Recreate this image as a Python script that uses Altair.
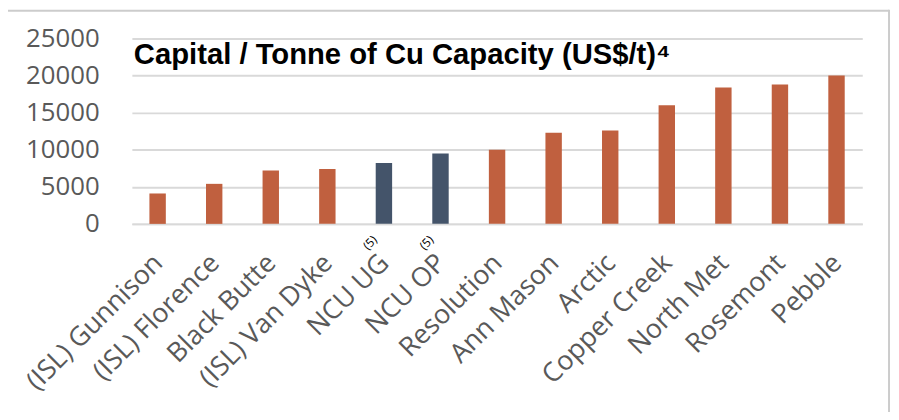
import altair as alt
import pandas as pd

categories = ["(ISL) Gunnison", "(ISL) Florence", "Black Butte", "(ISL) Van Dyke",
              "NCU UG", "NCU OP", "Resolution", "Ann Mason", "Arctic",
              "Copper Creek", "North Met", "Rosemont", "Pebble"]
values = [4100, 5400, 7200, 7400, 8200, 9500, 10000, 12300, 12600, 16000, 18400, 18800, 20000]
groups = ["Peer", "Peer", "Peer", "Peer", "NCU", "NCU", "Peer", "Peer", "Peer",
          "Peer", "Peer", "Peer", "Peer"]
notes = ["", "", "", "", "(5)", "(5)", "", "", "", "", "", "", ""]
y_ticks = [0, 5000, 10000, 15000, 20000, 25000]
title_text = "Capital / Tonne of Cu Capacity (US$/t)\u2074"

df = pd.DataFrame({"cat": categories, "val": values,
                   "grp": groups, "note": notes})

W, H = 737, 187

x = alt.X("cat:N", sort=categories, title=None,
          scale=alt.Scale(paddingInner=0.71, paddingOuter=0.31),
          axis=alt.Axis(labelAngle=-45, labelFont="Open Sans", labelFontSize=27,
                        labelColor="#595959", labelPadding=35, labelOffset=1,
                        ticks=False, labelAlign="right", labelBaseline="middle",
                        domainColor="#D9D9D9", domainWidth=2, labelLimit=400,
                        labelOverlap=False))
y_axis = alt.Axis(values=y_ticks, format="d", labelFont="Open Sans",
                  labelFontSize=26, labelColor="#595959", labelPadding=33,
                  labelOverlap=False, labelFlush=False,
                  ticks=False, domain=False, gridColor="#D9D9D9",
                  gridWidth=2)
y_scale = alt.Scale(domain=[0, 25000], nice=False)
y = alt.Y("val:Q", title=None, scale=y_scale, axis=y_axis)

bars = alt.Chart(df).mark_bar().encode(
    x=x, y=y,
    color=alt.Color("grp:N", legend=None,
                    scale=alt.Scale(domain=["Peer", "NCU"],
                                    range=["#C0603F", "#44546A"])))

sup = alt.Chart(df).transform_filter("datum.note != ''").mark_text(
    angle=315, fontSize=12, font="Open Sans", color="#000000",
    xOffset=-14, yOffset=19).encode(
    x=x,
    y=alt.YDatum(0, scale=y_scale, axis=y_axis, title=None),
    text="note:N")

title = alt.Chart(pd.DataFrame({"t": [title_text]})).mark_text(
    align="left", baseline="alphabetic", font="Liberation Sans",
    fontWeight="bold", fontSize=29.5, color="#000000").encode(
    x=alt.value(2), y=alt.value(26), text="t:N")

border_top = alt.Chart(pd.DataFrame({"a": [0]})).mark_rule(
    color="#CCCCCC", strokeWidth=2).encode(
    x=alt.value(-125), x2=alt.value(764), y=alt.value(-28))
border_right = alt.Chart(pd.DataFrame({"a": [0]})).mark_rule(
    color="#CCCCCC", strokeWidth=2).encode(
    x=alt.value(764), y=alt.value(-29), y2=alt.value(383))

chart = alt.layer(bars, sup, title, border_top, border_right).properties(
    width=W, height=H,
    autosize=alt.AutoSizeParams(type="none"),
    padding={"left": 125, "top": 29, "right": 29, "bottom": 188},
).configure_view(stroke=None)

chart.save("out.html", embed_options={"renderer": "svg", "actions": False})
